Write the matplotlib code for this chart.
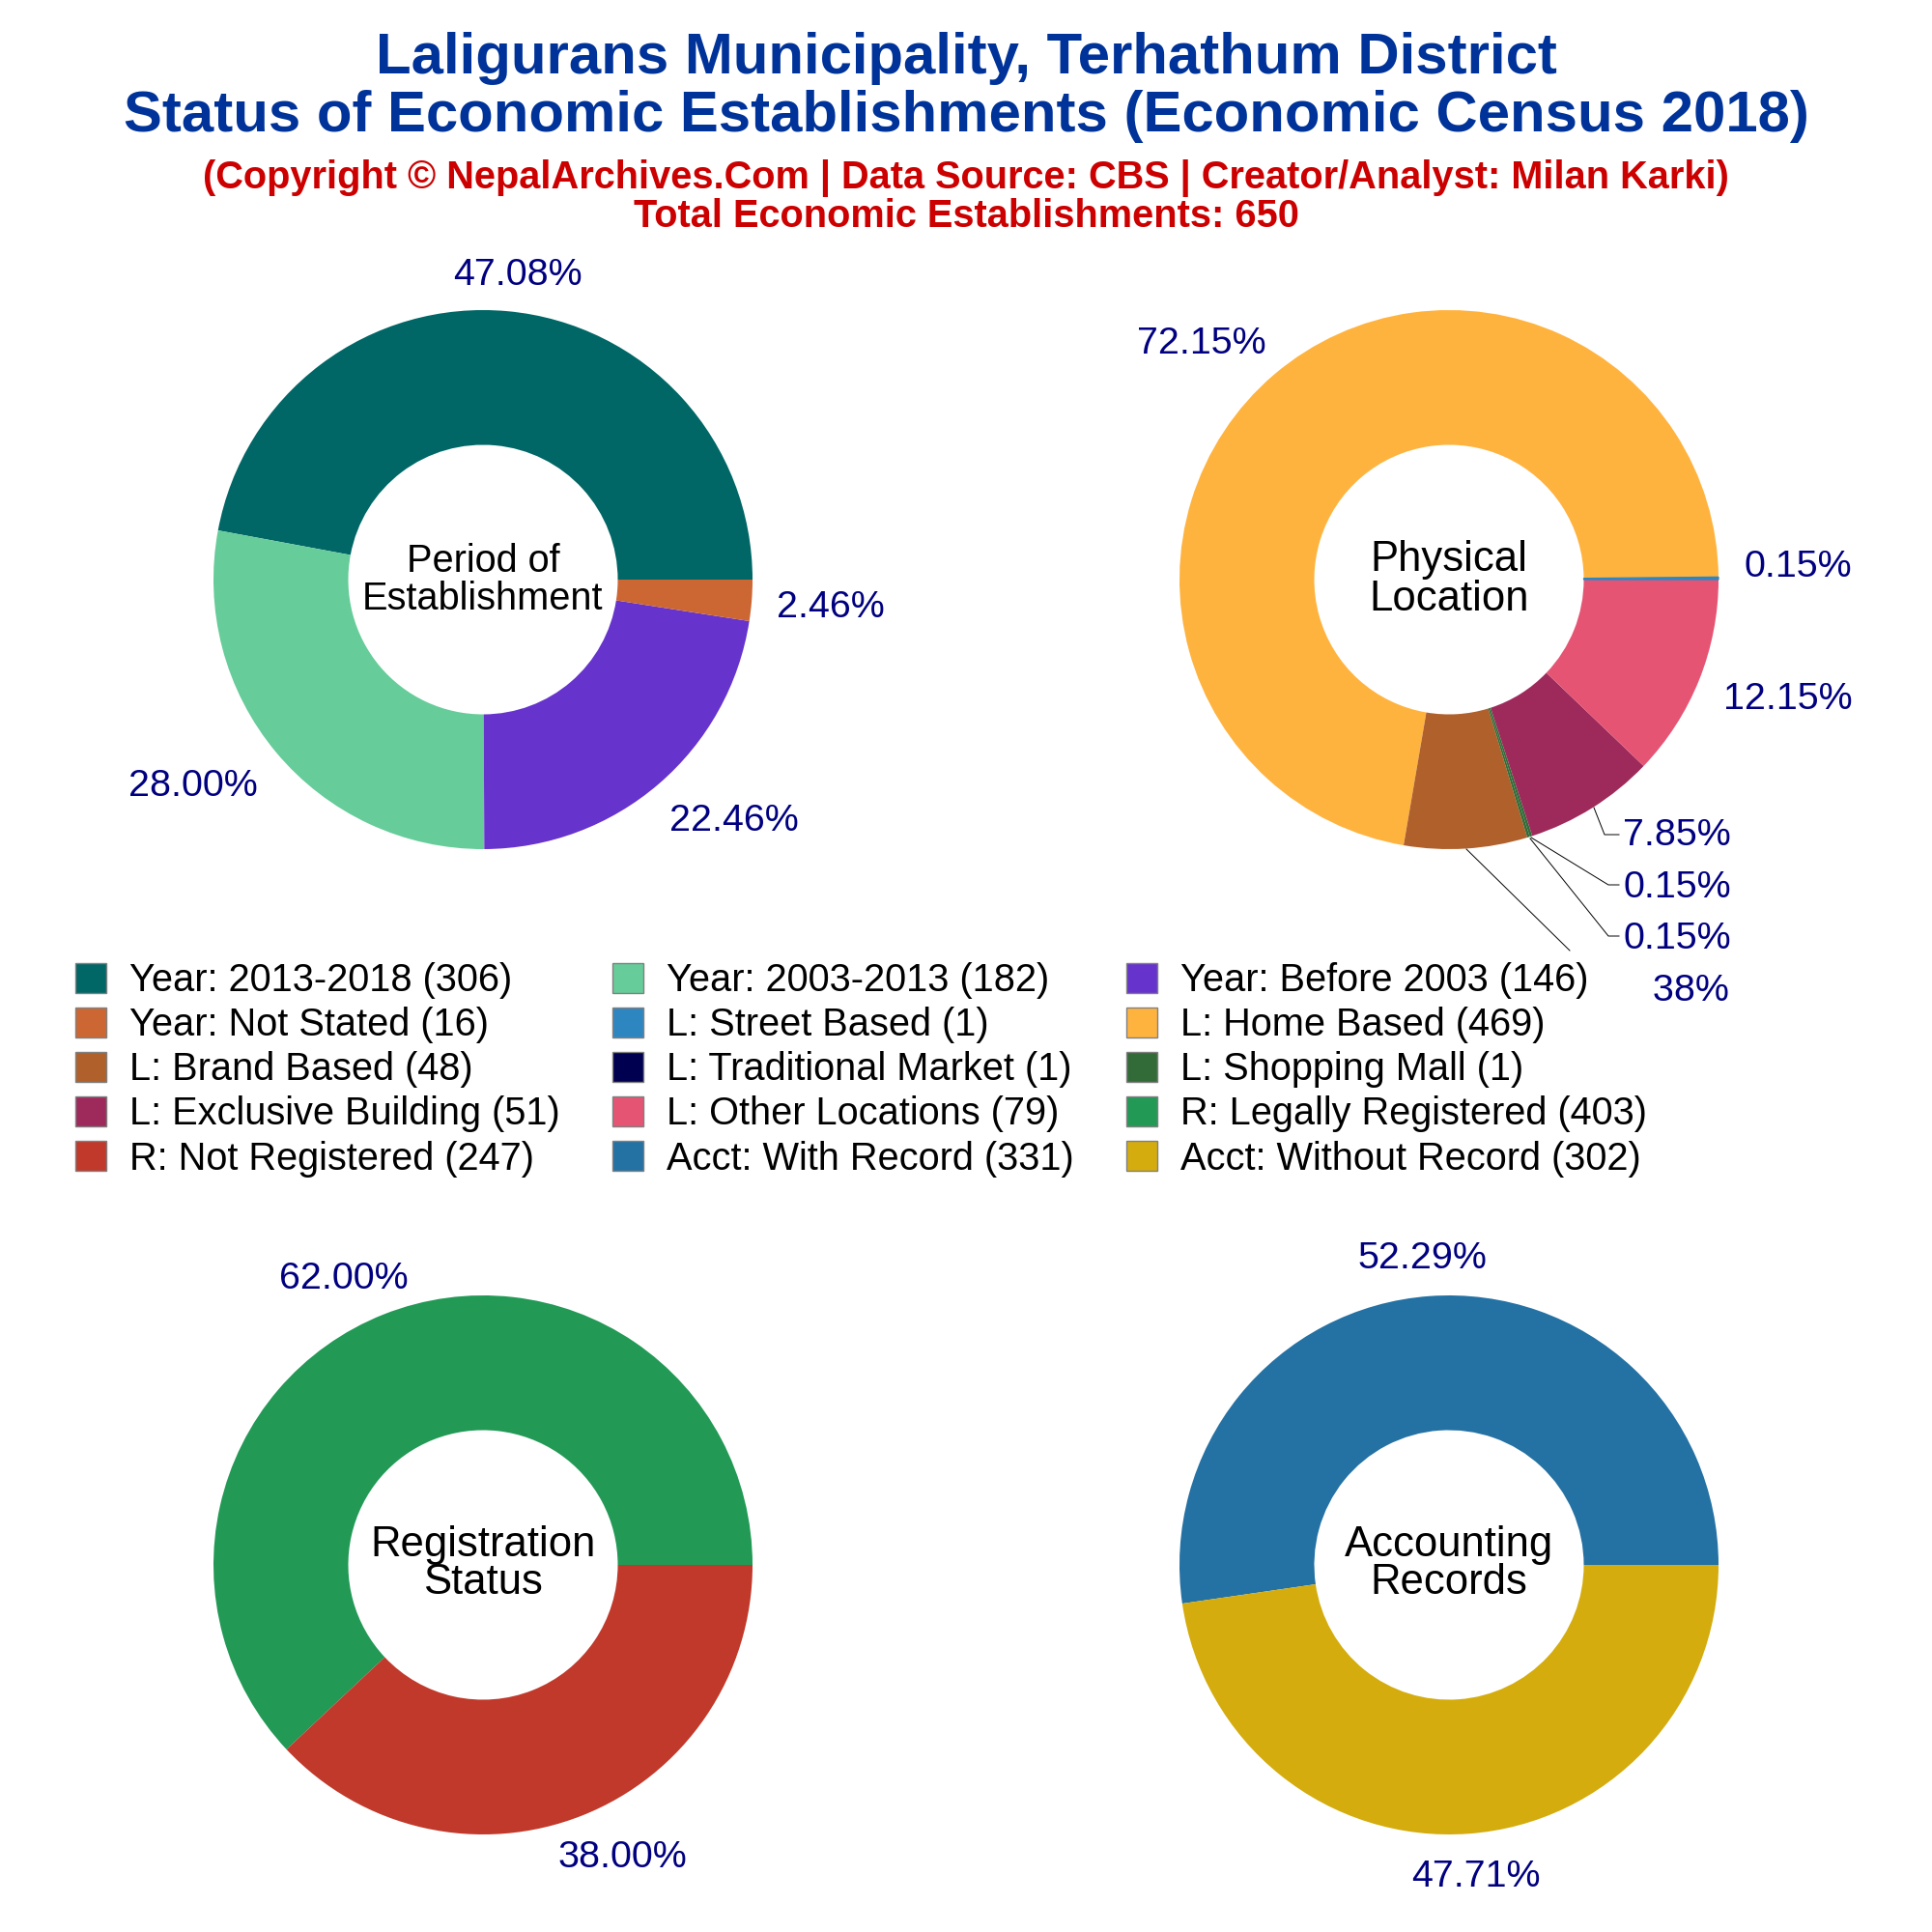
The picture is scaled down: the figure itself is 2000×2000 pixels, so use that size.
"""Economic census status donuts for Laligurans Municipality."""
import matplotlib
matplotlib.use("Agg")
import matplotlib.pyplot as plt
from matplotlib.lines import Line2D
from matplotlib.patches import Patch

plt.rcParams["font.family"] = ["Liberation Sans", "DejaVu Sans"]

PERIOD_LABELS = ["Year: 2013-2018", "Year: 2003-2013", "Year: Before 2003", "Year: Not Stated"]
PERIOD_VALUES = [306, 182, 146, 16]
PERIOD_COLORS = ["#006666", "#66CC99", "#6633CC", "#CC6633"]

LOCATION_LABELS = ["L: Street Based", "L: Home Based", "L: Brand Based", "L: Traditional Market",
                   "L: Shopping Mall", "L: Exclusive Building", "L: Other Locations"]
LOCATION_VALUES = [1, 469, 48, 1, 1, 51, 79]
LOCATION_COLORS = ["#2E86C1", "#FFB33F", "#B0602B", "#000050", "#336B38", "#9E2A5B", "#E55473"]
# on the ring the market slice is hidden under the mall stroke, only the legend shows navy
LOCATION_RING_COLORS = ["#2E86C1", "#FFB33F", "#B0602B", "#336B38", "#336B38", "#9E2A5B", "#E55473"]

REG_LABELS = ["R: Legally Registered", "R: Not Registered"]
REG_VALUES = [403, 247]
REG_COLORS = ["#229955", "#C0392B"]

ACCT_LABELS = ["Acct: With Record", "Acct: Without Record"]
ACCT_VALUES = [331, 302]
ACCT_COLORS = ["#2471A3", "#D4AC0D"]

SIZE = 2000
R = 279
NAVY = "#000080"


def fx(x):
    return x / SIZE


def fy(y):
    return 1 - y / SIZE


def put(x, y, s, **kw):
    kw.setdefault("ha", "center")
    kw.setdefault("va", "center")
    return fig.text(fx(x), fy(y), s, **kw)


def donut(cx, cy, values, colors, center_lines, center_ys, center_size, label_xy):
    ax = fig.add_axes([fx(cx - R), fy(cy + R), 2 * R / SIZE, 2 * R / SIZE])
    wedges, _ = ax.pie(values, colors=colors, startangle=0, counterclock=True, radius=1,
                       wedgeprops={"width": 0.5, "linewidth": 0})
    # a one-unit first slice needs an edge to stay visible over its neighbours
    if values[0] == 1:
        wedges[0].set_edgecolor(wedges[0].get_facecolor())
        wedges[0].set_linewidth(0.45)
        wedges[0].set_zorder(2)
    ax.set_xlim(-1, 1)
    ax.set_ylim(-1, 1)
    ax.set_aspect("equal")
    for line, y in zip(center_lines, center_ys):
        put(cx, y, line, fontsize=center_size, color="black")
    total = sum(values)
    for v, (x, y) in zip(values, label_xy):
        put(x, y, f"{v / total * 100:.2f}%", fontsize=14.2, color=NAVY)


fig = plt.figure(figsize=(10, 10), dpi=200, facecolor="white")

put(1000, 60, "Laligurans Municipality, Terhathum District", fontsize=21.55, fontweight="bold", color="#003399")
put(1000, 120, "Status of Economic Establishments (Economic Census 2018)", fontsize=21.55, fontweight="bold", color="#003399")
put(1000, 185, "(Copyright © NepalArchives.Com | Data Source: CBS | Creator/Analyst: Milan Karki)",
    fontsize=14.3, fontweight="bold", color="#CC0000")
put(1000, 224, "Total Economic Establishments: 650", fontsize=14.3, fontweight="bold", color="#CC0000")

donut(500, 600, PERIOD_VALUES, PERIOD_COLORS, ["Period of", "Establishment"], [581, 620], 14.3,
      [(536, 285), (200, 814), (760, 850), (860, 629)])
donut(1500, 600, LOCATION_VALUES, LOCATION_RING_COLORS, ["Physical", "Location"], [580, 621], 15.7,
      [(1861, 587), (1244, 356), (1734, 1026), (1736, 919), (1736, 972), (1736, 865), (1851, 724)])
donut(500, 1620, REG_VALUES, REG_COLORS, ["Registration", "Status"], [1599, 1639], 15.7,
      [(356, 1324), (644, 1923)])
donut(1500, 1620, ACCT_VALUES, ACCT_COLORS, ["Accounting", "Records"], [1599, 1639], 15.7,
      [(1472, 1303), (1528, 1943)])

# leader lines for the small location slices, the last one runs under the legend
for xs, ys in [
    ([1650, 1661, 1676], [836, 864, 864]),
    ([1585, 1665, 1676], [867, 916, 916]),
    ([1584, 1665, 1676], [868, 969, 969]),
    ([1518, 1625], [879, 984]),
]:
    fig.add_artist(Line2D([fx(x) for x in xs], [fy(y) for y in ys], color="black", linewidth=0.35))

labels = PERIOD_LABELS + LOCATION_LABELS + REG_LABELS + ACCT_LABELS
values = PERIOD_VALUES + LOCATION_VALUES + REG_VALUES + ACCT_VALUES
colors = PERIOD_COLORS + LOCATION_COLORS + REG_COLORS + ACCT_COLORS
handles = [Patch(facecolor=c, edgecolor="#808080", linewidth=0.5, label=f"{n} ({v})")
           for n, v, c in zip(labels, values, colors)]
# the reference reads across rows, matplotlib fills by column
ordered = handles[0::3] + handles[1::3] + handles[2::3]
leg = fig.legend(handles=ordered, ncol=3, loc="upper left", bbox_to_anchor=(fx(72), fy(990)),
                 fontsize=14.3, frameon=True, framealpha=1, facecolor="white", edgecolor="none",
                 fancybox=False, borderpad=0.15, borderaxespad=0, handlelength=0.81, handleheight=0.83,
                 handletextpad=0.6, columnspacing=1.37, labelspacing=0.205)

fig.savefig("out.png", dpi=200)
